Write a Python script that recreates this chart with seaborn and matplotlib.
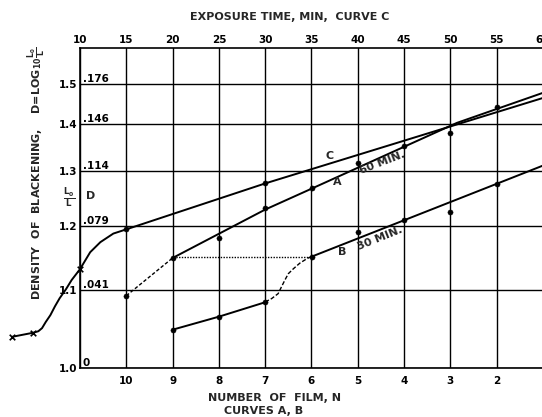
import matplotlib
matplotlib.use('Agg')
import matplotlib.pyplot as plt
import seaborn as sns

# ---- data ----
# curve C, plotted against exposure time (min), top axis
c_time = [2.7, 4.9, 5.5, 5.9, 6.3, 6.8, 7.3, 7.8, 8.5, 9.1, 10.0, 11.1, 12.2, 13.6, 15.0, 30.0, 60.0]
c_ratio = [1.038, 1.043, 1.045, 1.049, 1.057, 1.066, 1.078, 1.089, 1.102, 1.115, 1.131, 1.157, 1.173,
           1.187, 1.194, 1.276, 1.463]
c_cross_time = [2.7, 4.9, 10.0]
c_cross_ratio = [1.038, 1.043, 1.131]
c_dot_time = [15, 30]
c_dot_ratio = [1.194, 1.276]

# curves A (60 min) and B (30 min), plotted against number of film N, bottom axis
a_n = [10, 9, 8, 7, 6, 5, 4, 3, 2]
a_ratio = [1.0925, 1.148, 1.179, 1.230, 1.267, 1.317, 1.352, 1.380, 1.441]
a_line_n = [9, 7, 6, 4.0, 2.86, 1.0]
a_line_ratio = [1.148, 1.228, 1.266, 1.350, 1.403, 1.476]
a_dash_n = [10, 9]
a_dash_ratio = [1.0925, 1.148]

b_n = [9, 8, 7, 6, 5, 4, 3, 2]
b_ratio = [1.047, 1.064, 1.0835, 1.150, 1.190, 1.209, 1.2245, 1.2755]
b_low_n = [9, 8, 7]
b_low_ratio = [1.047, 1.064, 1.0835]
b_s_n = [7.0, 6.86, 6.72, 6.65, 6.57, 6.50, 6.39, 6.25, 6.10, 6.0]
b_s_ratio = [1.0839, 1.0886, 1.0955, 1.1049, 1.1155, 1.1243, 1.1317, 1.1402, 1.1469, 1.1504]
b_up_n = [6, 1]
b_up_ratio = [1.150, 1.311]

dot_n = [9, 6]
dot_ratio = [1.150, 1.150]

ratio_ticks = [1.0, 1.1, 1.2, 1.3, 1.4, 1.5]
ratio_labels = ['1.0', '1.1', '1.2', '1.3', '1.4', '1.5']
d_labels = ['0', '.041', '.079', '.114', '.146', '.176']
time_ticks = [10, 15, 20, 25, 30, 35, 40, 45, 50, 55, 60]
film_ticks = [10, 9, 8, 7, 6, 5, 4, 3, 2]

sns.set_theme(style='white')
plt.rcParams['font.family'] = ['DejaVu Sans']
plt.rcParams['font.weight'] = 'bold'
plt.rcParams['mathtext.default'] = 'bf'

W, H = 542, 417
fig = plt.figure(figsize=(W / 100, H / 100), dpi=100)
fig.patch.set_facecolor('white')


def px(x, y):
    return x / W, 1 - y / H


ax = fig.add_axes([80 / W, 1 - 368 / H, 463 / W, 320 / H])
ax.set_facecolor('white')
ax.set_yscale('function', functions=(lambda v: -1.0 / v, lambda v: -1.0 / v))
ax.set_ylim(1.0, 1.6)
ax.set_xlim(10, 60)

ax2 = ax.twiny()
ax2.set_xlim(11, 1)

# top axis: exposure time
ax.set_xticks(time_ticks)
ax.set_xticklabels([str(t) for t in time_ticks])
ax.xaxis.set_ticks_position('top')
ax.xaxis.set_label_position('top')
ax.set_yticks(ratio_ticks)
ax.set_yticklabels(ratio_labels)
ax.minorticks_off()
ax.grid(True, color='black', lw=1.0)
ax.tick_params(length=0, labelsize=7.5, pad=2, colors='black')
for s in ax.spines.values():
    s.set_color('black')
    s.set_linewidth(1.2)

# bottom axis: number of film
ax2.set_xticks(film_ticks)
ax2.set_xticklabels([str(n) for n in film_ticks])
ax2.xaxis.set_ticks_position('bottom')
ax2.xaxis.set_label_position('bottom')
ax2.tick_params(length=0, labelsize=7.5, pad=6, colors='black')
for s in ax2.spines.values():
    s.set_visible(False)

# curve C
sns.lineplot(x=c_time, y=c_ratio, ax=ax, color='black', lw=1.4, sort=False, estimator=None)
ax.lines[-1].set_clip_on(False)
sns.scatterplot(x=c_cross_time, y=c_cross_ratio, ax=ax, marker='x', color='black', s=16,
                linewidth=1.2, clip_on=False, zorder=5)
sns.scatterplot(x=c_dot_time, y=c_dot_ratio, ax=ax, color='black', s=14, edgecolor='black', zorder=5)

# curve A
sns.lineplot(x=a_line_n, y=a_line_ratio, ax=ax2, color='black', lw=1.4, sort=False, estimator=None)
sns.lineplot(x=a_dash_n, y=a_dash_ratio, ax=ax2, color='black', lw=1.0, sort=False, estimator=None)
ax2.lines[-1].set_dashes([2.5, 1.5])
sns.scatterplot(x=a_n, y=a_ratio, ax=ax2, color='black', s=14, edgecolor='black', zorder=5)

# curve B
sns.lineplot(x=b_low_n, y=b_low_ratio, ax=ax2, color='black', lw=1.4, sort=False, estimator=None)
sns.lineplot(x=b_s_n, y=b_s_ratio, ax=ax2, color='black', lw=1.0, sort=False, estimator=None)
ax2.lines[-1].set_dashes([3, 1.5])
sns.lineplot(x=b_up_n, y=b_up_ratio, ax=ax2, color='black', lw=1.4, sort=False, estimator=None)
sns.scatterplot(x=b_n, y=b_ratio, ax=ax2, color='black', s=14, edgecolor='black', zorder=5)

# dotted link between A and B
sns.lineplot(x=dot_n, y=dot_ratio, ax=ax2, color='black', lw=1.0, sort=False, estimator=None)
ax2.lines[-1].set_dashes([1, 1])

ax2.set_xlabel('')
ax2.set_ylabel('')
ax.set_xlabel('')
ax.set_ylabel('')

# D values along the left edge
for r, d in zip(ratio_ticks, d_labels):
    ax.text(0.006, r, d, transform=ax.get_yaxis_transform(), ha='left', va='bottom',
            fontsize=7.5, color='black')

# titles and labels
fig.text(*px(290, 17), 'EXPOSURE TIME, MIN,  CURVE C', ha='center', va='center', fontsize=8)
fig.text(*px(275, 398), 'NUMBER  OF  FILM, N', ha='center', va='center', fontsize=8)
fig.text(*px(264, 411), 'CURVES A, B', ha='center', va='center', fontsize=8)
fig.text(*px(37, 173), r'DENSITY  OF  BLACKENING,    D=LOG$_{10}\frac{L_0}{L}$', rotation=90,
         ha='center', va='center', fontsize=8)
fig.text(*px(69, 198), r'$\frac{L_0}{L}$', ha='center', va='center', fontsize=9)
fig.text(*px(91, 196), 'D', ha='center', va='center', fontsize=8)

fig.text(*px(330, 156), 'C', ha='center', va='center', fontsize=8)
fig.text(*px(337, 182), 'A', ha='center', va='center', fontsize=8)
fig.text(*px(382, 163), '60 MIN.', ha='center', va='center', fontsize=8, rotation=21)
fig.text(*px(342, 252), 'B', ha='center', va='center', fontsize=8)
fig.text(*px(380, 238), '30 MIN.', ha='center', va='center', fontsize=8, rotation=22)

fig.savefig('out.png', dpi=100)
